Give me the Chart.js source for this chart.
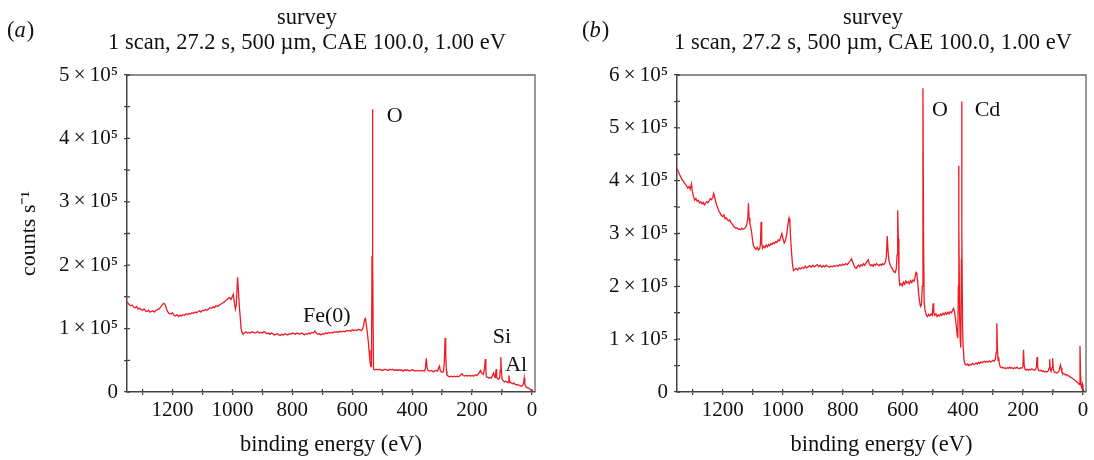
<!DOCTYPE html>
<html>
<head>
<meta charset="utf-8">
<script src="https://cdn.jsdelivr.net/npm/chart.js@4.4.1/dist/chart.umd.min.js"></script>
<style>
  html, body { margin: 0; padding: 0; background: #fff; }
  #wrap { position: relative; width: 1094px; height: 460px; overflow: hidden; }
  .panel { position: absolute; top: 0; width: 547px; height: 460px; }
</style>
</head>
<body>
<div id="wrap">
  <div class="panel" style="left:0"><canvas id="chartA" width="547" height="460"></canvas></div>
  <div class="panel" style="left:547px"><canvas id="chartB" width="547" height="460"></canvas></div>
</div>
<script>
// ---------- text ----------
const titleLines = ['survey', '1 scan, 27.2 s, 500 \u00b5m, CAE 100.0, 1.00 eV'];
const xAxisTitle = 'binding energy (eV)';
const yAxisTitle = 'counts s\u207b\u00b9';

// ---------- ticks ----------
const xTickValues = [1300, 1200, 1100, 1000, 900, 800, 700, 600, 500, 400, 300, 200, 100, 0];
const xTickLabels = ['', '1200', '', '1000', '', '800', '', '600', '', '400', '', '200', '', '0'];
const yTickValuesA = [0, 50000, 100000, 150000, 200000, 250000, 300000, 350000, 400000, 450000, 500000];
const yTickLabelsA = ['0', '', '1\u2009\u00d7\u200910\u2075', '', '2\u2009\u00d7\u200910\u2075', '', '3\u2009\u00d7\u200910\u2075', '', '4\u2009\u00d7\u200910\u2075', '', '5\u2009\u00d7\u200910\u2075'];
const yTickValuesB = [0, 50000, 100000, 150000, 200000, 250000, 300000, 350000, 400000, 450000, 500000, 550000, 600000];
const yTickLabelsB = ['0', '', '1\u2009\u00d7\u200910\u2075', '', '2\u2009\u00d7\u200910\u2075', '', '3\u2009\u00d7\u200910\u2075', '', '4\u2009\u00d7\u200910\u2075', '', '5\u2009\u00d7\u200910\u2075', '', '6\u2009\u00d7\u200910\u2075'];

// ---------- peak labels ----------
const notesA = [
  { text: 'O', e: 458, c: 435000 },
  { text: 'Fe(0)', e: 685, c: 120000 },
  { text: 'Si', e: 100, c: 87000 },
  { text: 'Al', e: 53, c: 43000 }
];
const notesB = [
  { text: 'O', e: 476, c: 534000 },
  { text: 'Cd', e: 318, c: 534000 }
];

// ---------- spectrum (a) ----------
const energyA = [1352,1345,1340,1335,1330,1325,1320,1315,1310,1305,1300,1295,1290,1285,1280,1275,1270,1265,1260,1255,1250,1245,1240,1235,1230,1226,1222,1218,1212,1205,1200,1195,1190,1185,1180,1175,1170,1165,1160,1155,1150,1145,1140,1135,1130,1125,1120,1115,1110,1105,1100,1095,1090,1085,1080,1075,1070,1065,1060,1055,1050,1045,1040,1035,1030,1025,1020,1015,1010,1005,1000,997,994,990,987,983,980,977,974,971,968,965,960,955,950,945,940,935,930,925,920,915,910,905,900,895,890,885,880,875,870,865,860,855,850,845,840,835,830,825,820,815,810,805,800,795,790,785,780,775,770,765,760,755,750,745,740,735,730,725,720,715,710,705,700,695,690,685,680,675,670,665,660,655,650,645,640,635,630,625,620,615,610,605,600,595,590,585,580,575,570,566,562,559,556,553,550,547,544,541,538,536,534,533,532,531,529,526,520,515,510,505,500,495,490,485,480,475,470,465,460,455,450,445,440,435,430,425,420,415,410,405,400,395,390,385,380,375,370,365,360,356,353,350,347,340,335,330,325,320,315,312,309,306,300,296,293,290,288,286,284,280,275,270,265,260,255,250,245,240,236,233,230,225,220,215,210,205,200,195,190,185,180,175,172,168,162,158,156,154,152,148,144,140,136,132,128,125,122,120,118,115,112,108,106,104,102,100,96,92,88,84,80,77,75,72,68,64,60,56,52,48,44,40,36,32,28,26,24,20,16,12,8,4,0,-4];
const countsA = [142000,138000,136000,137000,134000,133000,135000,131000,132000,130000,129000,131000,128000,127000,129000,126000,127000,128000,126000,129000,130000,131000,134000,137000,140000,139000,134000,128000,124000,123000,125000,121000,120000,122000,119000,121000,120000,122000,121000,123000,122000,124000,123000,125000,124000,126000,125000,127000,128000,126000,129000,128000,130000,129000,131000,133000,132000,134000,133000,136000,135000,137000,138000,140000,141000,143000,145000,147000,149000,146000,151000,154000,142000,131000,138000,181000,160000,135000,118000,100000,94000,92000,93000,95000,93000,94000,93000,95000,94000,93000,94000,95000,93000,94000,93000,95000,94000,92000,93000,91000,93000,92000,90000,91000,92000,90000,89000,91000,90000,92000,91000,90000,92000,91000,93000,92000,91000,93000,92000,91000,93000,92000,90000,92000,91000,93000,92000,94000,93000,96000,93000,91000,92000,90000,92000,91000,93000,92000,94000,93000,94000,93000,95000,94000,95000,94000,96000,95000,96000,95000,97000,96000,97000,96000,98000,97000,98000,97000,99000,98000,97000,99000,105000,114000,116000,106000,95000,82000,66000,48000,40000,40000,215000,120000,446000,200000,36000,35000,36000,35000,36000,35000,34000,35000,36000,35000,34000,36000,35000,36000,34000,35000,34000,35000,34000,35000,33000,35000,34000,35000,33000,34000,35000,34000,33000,34000,33000,34000,33000,34000,33000,36000,53000,38000,34000,33000,34000,32000,33000,34000,33000,38000,41000,33000,31000,32000,45000,85000,60000,33000,27000,25000,24000,25000,24000,25000,24000,25000,24000,26000,28000,29000,26000,25000,26000,25000,26000,25000,26000,25000,27000,26000,28000,31000,34000,30000,28000,40000,52000,33000,24000,23000,22000,23000,22000,26000,30000,24000,23000,36000,24000,21000,20000,22000,35000,55000,32000,20000,18000,16000,17000,16000,15000,26000,18000,15000,14000,13000,14000,12000,11000,12000,11000,10000,9000,10000,14000,22000,12000,8000,7000,6000,5000,3000,2000,500];

// ---------- spectrum (b) ----------
const energyB = [1352,1348,1344,1340,1336,1332,1328,1324,1320,1316,1312,1308,1304,1301,1297,1293,1289,1285,1281,1277,1273,1269,1265,1261,1257,1253,1249,1245,1241,1237,1233,1230,1227,1224,1220,1216,1212,1208,1204,1200,1196,1192,1188,1184,1180,1176,1172,1168,1164,1160,1156,1152,1148,1144,1140,1136,1132,1128,1124,1120,1116,1114,1112,1109,1106,1103,1100,1097,1093,1089,1085,1081,1077,1074,1072,1070,1067,1063,1059,1055,1051,1047,1043,1039,1035,1031,1027,1023,1019,1015,1011,1007,1003,999,995,991,987,983,979,976,973,970,967,964,960,955,950,945,940,935,930,925,920,915,910,905,900,895,890,885,880,875,870,865,860,855,850,845,840,835,830,825,820,815,810,805,800,795,790,785,780,775,771,767,763,759,755,751,747,743,739,735,731,727,723,719,715,711,707,703,699,695,691,687,683,679,675,671,667,663,659,655,652,649,646,642,638,634,630,626,622,619,617,615,613,610,606,602,598,594,590,586,582,578,574,570,566,562,559,556,553,550,547,544,541,538,535,533,531,529,526,522,518,514,510,506,502,499,497,494,490,486,482,478,474,470,466,462,458,454,450,446,442,438,434,431,428,425,422,419,417,415,414,413,411,409,407,405,404,403,401,399,396,392,388,384,380,376,372,368,364,360,356,352,348,344,340,336,332,328,324,320,316,312,308,304,300,296,292,289,287,285,283,281,279,276,272,268,264,260,256,252,248,244,240,236,232,228,224,220,216,212,208,204,200,198,196,193,190,186,182,178,174,170,166,162,158,155,153,151,148,144,140,136,132,128,124,120,116,113,111,109,106,103,101,99,96,92,88,84,80,77,75,73,70,66,62,58,54,50,46,42,38,34,30,26,22,18,15,12,10,8,6,4,2,0,-3];
const countsB = [423000,418000,412000,408000,402000,400000,396000,393000,390000,386000,389000,384000,394000,380000,370000,363000,366000,361000,363000,358000,360000,356000,359000,354000,357000,360000,358000,362000,366000,364000,368000,376000,370000,362000,354000,348000,342000,338000,334000,332000,335000,328000,330000,326000,324000,326000,320000,318000,314000,312000,310000,311000,308000,309000,307000,310000,308000,309000,311000,316000,330000,357000,330000,318000,310000,300000,285000,276000,273000,270000,274000,269000,271000,280000,322000,282000,272000,276000,273000,278000,275000,279000,277000,281000,279000,283000,281000,285000,283000,288000,286000,292000,300000,290000,282000,286000,298000,315000,329000,320000,285000,260000,240000,230000,232000,234000,231000,235000,233000,236000,234000,238000,235000,237000,239000,236000,240000,237000,239000,241000,237000,240000,236000,239000,237000,240000,238000,236000,238000,237000,239000,238000,240000,238000,241000,239000,242000,240000,243000,241000,245000,248000,252000,246000,240000,236000,234000,238000,240000,237000,241000,239000,243000,240000,244000,247000,250000,242000,239000,241000,238000,242000,240000,243000,241000,239000,242000,240000,243000,241000,244000,255000,295000,265000,248000,240000,236000,232000,228000,226000,232000,260000,344000,290000,220000,202000,205000,201000,208000,204000,210000,206000,209000,205000,211000,207000,212000,210000,218000,226000,222000,205000,185000,170000,162000,165000,200000,575000,300000,170000,155000,146000,143000,147000,144000,148000,145000,168000,150000,145000,148000,143000,146000,144000,148000,145000,149000,146000,150000,147000,151000,148000,152000,150000,155000,158000,152000,140000,125000,108000,102000,200000,428000,320000,150000,100000,84000,250000,550000,300000,120000,86000,60000,52000,51000,53000,50000,52000,51000,54000,52000,53000,55000,53000,56000,54000,57000,55000,57000,58000,56000,58000,57000,59000,57000,58000,60000,58000,62000,75000,130000,85000,60000,66000,55000,48000,46000,47000,45000,46000,44000,46000,45000,47000,45000,46000,44000,46000,45000,47000,45000,44000,46000,45000,48000,80000,52000,43000,42000,43000,41000,43000,42000,44000,42000,41000,43000,48000,66000,47000,41000,40000,41000,39000,40000,38000,39000,38000,40000,45000,62000,44000,39000,46000,64000,44000,38000,37000,36000,37000,40000,47000,51000,45000,38000,35000,34000,32000,33000,31000,30000,28000,27000,25000,24000,22000,20000,18000,16000,14000,87000,30000,12000,8000,14000,5000,1000];

// ---------- styling ----------
const SERIF = '"Liberation Serif", "Times New Roman", serif';
const LINE = 'rgb(236,28,36)';
const AXIS = '#444';

const deco = {
  id: 'deco',
  afterDraw(chart, args, opts) {
    const { ctx, chartArea: { left, top, right, bottom }, scales: { x, y } } = chart;
    ctx.save();
    // frame top/right
    ctx.strokeStyle = '#666';
    ctx.lineWidth = 1.3;
    ctx.beginPath();
    ctx.moveTo(left, top); ctx.lineTo(right, top); ctx.lineTo(right, bottom);
    ctx.stroke();
    // inner tick marks
    ctx.strokeStyle = AXIS;
    ctx.beginPath();
    x.ticks.forEach(t => { const p = x.getPixelForValue(t.value); ctx.moveTo(p, bottom); ctx.lineTo(p, bottom - 3); });
    y.ticks.forEach(t => { const p = y.getPixelForValue(t.value); ctx.moveTo(left, p); ctx.lineTo(left + 3, p); });
    ctx.stroke();
    // titles
    ctx.fillStyle = '#111';
    ctx.textAlign = 'center';
    ctx.textBaseline = 'middle';
    ctx.font = '22.5px ' + SERIF;
    ctx.fillText(titleLines[0], opts.titleX, 18);
    ctx.fillText(titleLines[1], opts.titleX, 43);
    // panel letter
    ctx.textAlign = 'left';
    let px = opts.letterX;
    ctx.font = '22.5px ' + SERIF;
    ctx.fillText('(', px, 31); px += ctx.measureText('(').width;
    ctx.font = 'italic 22.5px ' + SERIF;
    ctx.fillText(opts.letter, px, 31); px += ctx.measureText(opts.letter).width + 1;
    ctx.font = '22.5px ' + SERIF;
    ctx.fillText(')', px, 31);
    // peak labels
    ctx.textAlign = 'center';
    ctx.font = '22px ' + SERIF;
    opts.notes.forEach(n => ctx.fillText(n.text, x.getPixelForValue(n.e), y.getPixelForValue(n.c)));
    ctx.restore();
  }
};

function makeChart(id, energy, counts, yVals, yLabels, yMax, notes, letter, letterX, titleX, yWidth, padRight, showYTitle) {
  return new Chart(document.getElementById(id), {
    type: 'line',
    data: {
      datasets: [{
        data: energy.map((e, i) => ({ x: e, y: counts[i] })),
        borderColor: LINE,
        borderWidth: 1.3,
        pointRadius: 0,
        tension: 0,
        fill: false
      }]
    },
    options: {
      responsive: false,
      animation: false,
      events: [],
      layout: { padding: { top: 75, right: padRight, bottom: 0, left: 0 } },
      plugins: {
        legend: { display: false },
        tooltip: { enabled: false },
        deco: { notes, letter, letterX, titleX }
      },
      scales: {
        x: {
          type: 'linear',
          reverse: true,
          min: -10,
          max: 1352,
          afterBuildTicks: s => { s.ticks = xTickValues.map(v => ({ value: v })); },
          afterFit: s => { s.height = 68; },
          ticks: {
            autoSkip: false,
            maxRotation: 0,
            padding: 3,
            color: '#111',
            font: { family: SERIF, size: 21 },
            callback: (v, i) => xTickLabels[i]
          },
          grid: { display: true, drawOnChartArea: false, drawTicks: true, tickLength: 3, color: AXIS, lineWidth: 1.3 },
          border: { display: true, color: AXIS, width: 1.5 },
          title: { display: true, text: xAxisTitle, color: '#111', font: { family: SERIF, size: 22.5 }, padding: { top: 0, bottom: 1 } }
        },
        y: {
          type: 'linear',
          min: 0,
          max: yMax,
          afterBuildTicks: s => { s.ticks = yVals.map(v => ({ value: v })); },
          afterFit: s => { s.width = yWidth; },
          ticks: {
            autoSkip: false,
            padding: 6,
            color: '#111',
            font: { family: SERIF, size: 21 },
            callback: (v, i) => yLabels[i]
          },
          grid: { display: true, drawOnChartArea: false, drawTicks: true, tickLength: 3, color: AXIS, lineWidth: 1.3 },
          border: { display: true, color: AXIS, width: 1.5 },
          title: { display: showYTitle, text: yAxisTitle, color: '#111', font: { family: SERIF, size: 22 }, padding: { top: 16, bottom: 0 } }
        }
      }
    },
    plugins: [deco]
  });
}

makeChart('chartA', energyA, countsA, yTickValuesA, yTickLabelsA, 500000, notesA, 'a', 7, 307, 127, 12, true);
makeChart('chartB', energyB, countsB, yTickValuesB, yTickLabelsB, 600000, notesB, 'b', 35, 326, 130, 8, false);
</script>
</body>
</html>
